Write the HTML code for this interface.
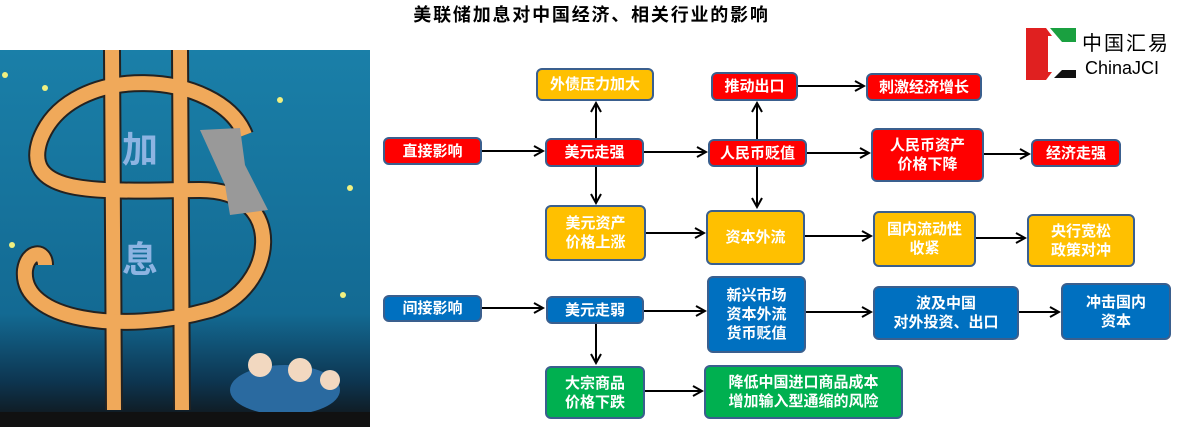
<!DOCTYPE html>
<html><head><meta charset="utf-8"><style>
body{margin:0;width:1183px;height:427px;background:#fff;position:relative;overflow:hidden;font-family:"Liberation Sans","Noto Sans CJK SC",sans-serif}
.b{position:absolute;box-sizing:border-box;border:2px solid #3a5f8e;border-radius:6px;color:#fff;font-weight:bold;font-size:15px;line-height:19px;display:flex;align-items:center;justify-content:center;text-align:center}
.r{background:#ff0000}.y{background:#ffc000}.u{background:#0070c0}.g{background:#00b050}
.t{position:absolute;left:0;width:1183px;top:1px;text-align:center;font-weight:bold;font-size:18px;letter-spacing:1.8px;color:#000}
</style></head><body>
<div class="t">美联储加息对中国经济、相关行业的影响</div>

<svg style="position:absolute;left:0;top:50px" width="370" height="377" viewBox="0 0 370 377">
<defs><linearGradient id="bg" x1="0" y1="0" x2="0" y2="1"><stop offset="0" stop-color="#1a7fa8"/><stop offset="0.7" stop-color="#136a93"/><stop offset="0.88" stop-color="#0d3550"/><stop offset="1" stop-color="#111"/></linearGradient></defs>
<rect width="370" height="377" fill="url(#bg)"/>
<g fill="none" stroke="#222" stroke-width="18"><path d="M112 0 L114 360 M180 0 L182 360"/><path d="M245 85 C220 20 70 10 40 90 C20 150 110 140 200 140 C290 140 275 240 210 260 C120 285 20 270 25 220 C28 200 45 200 45 215"/></g>
<g fill="none" stroke="#f0a95a" stroke-width="14"><path d="M112 0 L114 360 M180 0 L182 360"/><path d="M245 85 C220 20 70 10 40 90 C20 150 110 140 200 140 C290 140 275 240 210 260 C120 285 20 270 25 220 C28 200 45 200 45 215"/></g>
<text x="122" y="112" font-size="36" font-weight="bold" fill="#8db4e2" font-family="Noto Sans CJK SC">加</text>
<text x="122" y="222" font-size="36" font-weight="bold" fill="#8db4e2" font-family="Noto Sans CJK SC">息</text>
<path d="M200 80 L240 78 L245 115 L268 160 L230 165 L225 135 Z" fill="#999"/>
<ellipse cx="285" cy="340" rx="55" ry="25" fill="#2a6aa0"/>
<circle cx="260" cy="315" r="12" fill="#f2d8c0"/><circle cx="300" cy="320" r="12" fill="#f2d8c0"/><circle cx="330" cy="330" r="10" fill="#f2d8c0"/>
<rect y="362" width="370" height="15" fill="#111"/>
<g fill="#f0f080"><circle cx="5" cy="25" r="3"/><circle cx="45" cy="38" r="3"/><circle cx="280" cy="50" r="3"/><circle cx="350" cy="138" r="3"/><circle cx="12" cy="195" r="3"/><circle cx="343" cy="245" r="3"/></g>
</svg>

<svg style="position:absolute;left:1026px;top:28px" width="50" height="52">
<path d="M0 0 H20 L26 8 H22 V44 H26 L20 52 H0 Z" fill="#e02020"/>
<path d="M24 0 H50 V14 H36 Z" fill="#1aa040"/>
<path d="M28 50 L36 42 H50 V50 Z" fill="#111"/>
</svg>
<div style="position:absolute;left:1082px;top:27px;font-size:20px;color:#000;letter-spacing:2px">中国汇易</div>
<div style="position:absolute;left:1085px;top:58px;font-size:18px;color:#000">ChinaJCI</div>

<svg style="position:absolute;left:0;top:0" width="1183" height="427">
<defs><marker id="a" markerWidth="12" markerHeight="12" refX="10" refY="6" orient="auto" markerUnits="userSpaceOnUse"><path d="M1 1 L10 6 L1 11" fill="none" stroke="#000" stroke-width="2"/></marker></defs>
<g stroke="#000" stroke-width="2" marker-end="url(#a)">
<line x1="481" y1="151" x2="543" y2="151"/>
<line x1="596" y1="138" x2="596" y2="103"/>
<line x1="596" y1="166" x2="596" y2="203"/>
<line x1="643" y1="152" x2="706" y2="152"/>
<line x1="757" y1="139" x2="757" y2="103"/>
<line x1="757" y1="166" x2="757" y2="207"/>
<line x1="797" y1="86" x2="864" y2="86"/>
<line x1="806" y1="153" x2="869" y2="153"/>
<line x1="983" y1="154" x2="1029" y2="154"/>
<line x1="645" y1="233" x2="704" y2="233"/>
<line x1="804" y1="236" x2="871" y2="236"/>
<line x1="975" y1="238" x2="1025" y2="238"/>
<line x1="481" y1="308" x2="543" y2="308"/>
<line x1="643" y1="311" x2="705" y2="311"/>
<line x1="596" y1="323" x2="596" y2="363"/>
<line x1="805" y1="312" x2="871" y2="312"/>
<line x1="1018" y1="312" x2="1059" y2="312"/>
<line x1="644" y1="391" x2="702" y2="391"/>
</g></svg>

<div class="b y" style="left:536px;top:68px;width:118px;height:33px">外债压力加大</div>
<div class="b r" style="left:711px;top:72px;width:87px;height:29px">推动出口</div>
<div class="b r" style="left:866px;top:73px;width:116px;height:28px">刺激经济增长</div>
<div class="b r" style="left:383px;top:137px;width:99px;height:28px">直接影响</div>
<div class="b r" style="left:545px;top:138px;width:99px;height:29px">美元走强</div>
<div class="b r" style="left:708px;top:139px;width:99px;height:28px">人民币贬值</div>
<div class="b r" style="left:871px;top:128px;width:113px;height:54px">人民币资产<br>价格下降</div>
<div class="b r" style="left:1031px;top:139px;width:90px;height:28px">经济走强</div>
<div class="b y" style="left:545px;top:205px;width:101px;height:56px">美元资产<br>价格上涨</div>
<div class="b y" style="left:706px;top:210px;width:99px;height:55px">资本外流</div>
<div class="b y" style="left:873px;top:211px;width:103px;height:56px">国内流动性<br>收紧</div>
<div class="b y" style="left:1027px;top:214px;width:108px;height:53px">央行宽松<br>政策对冲</div>
<div class="b u" style="left:383px;top:295px;width:99px;height:27px">间接影响</div>
<div class="b u" style="left:546px;top:296px;width:98px;height:28px">美元走弱</div>
<div class="b u" style="left:707px;top:276px;width:99px;height:77px">新兴市场<br>资本外流<br>货币贬值</div>
<div class="b u" style="left:873px;top:286px;width:146px;height:54px">波及中国<br>对外投资、出口</div>
<div class="b u" style="left:1061px;top:283px;width:110px;height:57px">冲击国内<br>资本</div>
<div class="b g" style="left:545px;top:366px;width:100px;height:53px">大宗商品<br>价格下跌</div>
<div class="b g" style="left:704px;top:365px;width:199px;height:54px">降低中国进口商品成本<br>增加输入型通缩的风险</div>
</body></html>
